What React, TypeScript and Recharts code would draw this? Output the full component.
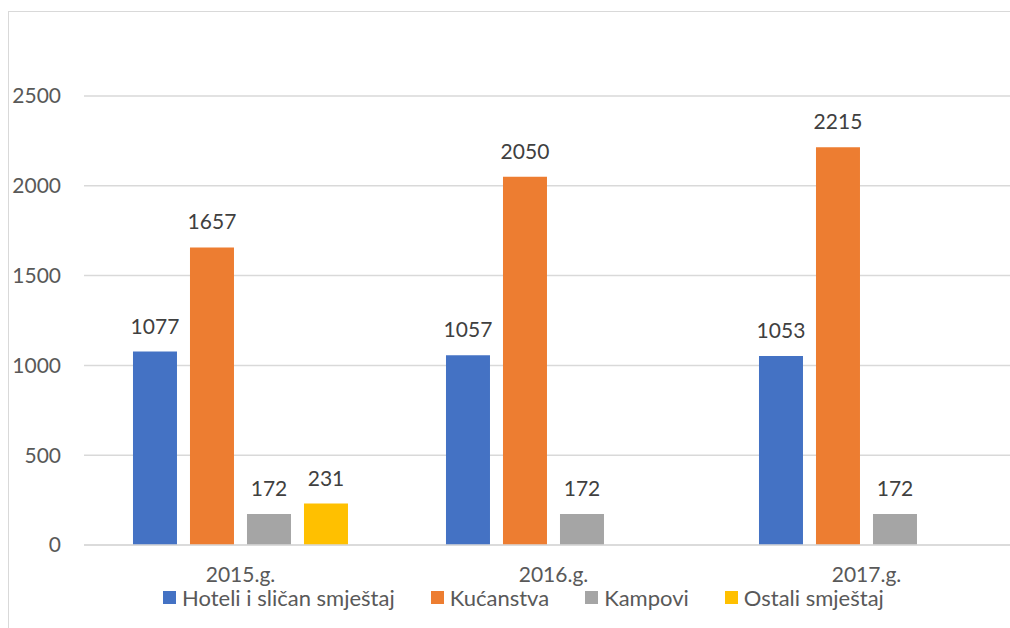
import { BarChart, Bar, XAxis, YAxis, CartesianGrid, LabelList } from 'recharts'

const years = ['2015.g.', '2016.g.', '2017.g.']
const hoteli = [1077, 1057, 1053]
const kucanstva = [1657, 2050, 2215]
const kampovi = [172, 172, 172]
const ostali: (number | null)[] = [231, null, null]
const yTicks = [0, 500, 1000, 1500, 2000, 2500]

const SERIES = [
  { key: 'hoteli', name: 'Hoteli i sličan smještaj', color: '#4472C4' },
  { key: 'kucanstva', name: 'Kućanstva', color: '#ED7D31' },
  { key: 'kampovi', name: 'Kampovi', color: '#A5A5A5' },
  { key: 'ostali', name: 'Ostali smještaj', color: '#FFC000' },
]

const data = years.map((year, i) => ({
  year,
  hoteli: hoteli[i],
  kucanstva: kucanstva[i],
  kampovi: kampovi[i],
  ostali: ostali[i],
}))

const FONT = 'Lato, "Noto Sans", sans-serif'

export default function App() {
  return (
    <div
      style={{
        position: 'absolute',
        left: 0,
        top: 0,
        width: 1010,
        height: 628,
        overflow: 'hidden',
        background: '#fff',
        fontFamily: FONT,
      }}
    >
      <div
        style={{
          position: 'absolute',
          left: 8,
          top: 11,
          width: 1100,
          height: 700,
          borderLeft: '1px solid #d9d9d9',
          borderTop: '1px solid #d9d9d9',
        }}
      />
      <div style={{ position: 'absolute', left: 0, top: 0 }}>
        <BarChart
          width={1023}
          height={628}
          data={data}
          margin={{ top: 96, right: 0, left: 0, bottom: 0 }}
          barCategoryGap="15.65%"
          barGap={13}
        >
          <CartesianGrid vertical={false} stroke="#d9d9d9" strokeWidth={1.5} />
          <XAxis
            dataKey="year"
            height={83}
            axisLine={{ stroke: '#d9d9d9', strokeWidth: 1.5 }}
            tickLine={false}
            tickSize={0}
            tickMargin={22}
            tick={{ fill: '#595959', fontSize: 21, fontFamily: FONT }}
          />
          <YAxis
            width={84}
            domain={[0, 2500]}
            ticks={yTicks}
            axisLine={false}
            tickLine={false}
            tickSize={0}
            tickMargin={23}
            tick={{ fill: '#595959', fontSize: 21, fontFamily: FONT }}
          />
          {SERIES.map((s) => (
            <Bar key={s.key} dataKey={s.key} name={s.name} fill={s.color} isAnimationActive={false}>
              <LabelList
                dataKey={s.key}
                position="top"
                offset={18}
                fill="#404040"
                fontSize={21}
                fontFamily={FONT}
              />
            </Bar>
          ))}
        </BarChart>
      </div>
      <div
        style={{
          position: 'absolute',
          top: 584,
          left: 163,
          display: 'flex',
          alignItems: 'center',
          fontSize: 22,
          color: '#595959',
          whiteSpace: 'nowrap',
        }}
      >
        {SERIES.map((s) => (
          <div key={s.key} style={{ display: 'flex', alignItems: 'center', marginRight: 36 }}>
            <span style={{ display: 'inline-block', width: 13, height: 13, background: s.color, marginRight: 6 }} />
            <span>{s.name}</span>
          </div>
        ))}
      </div>
    </div>
  )
}
